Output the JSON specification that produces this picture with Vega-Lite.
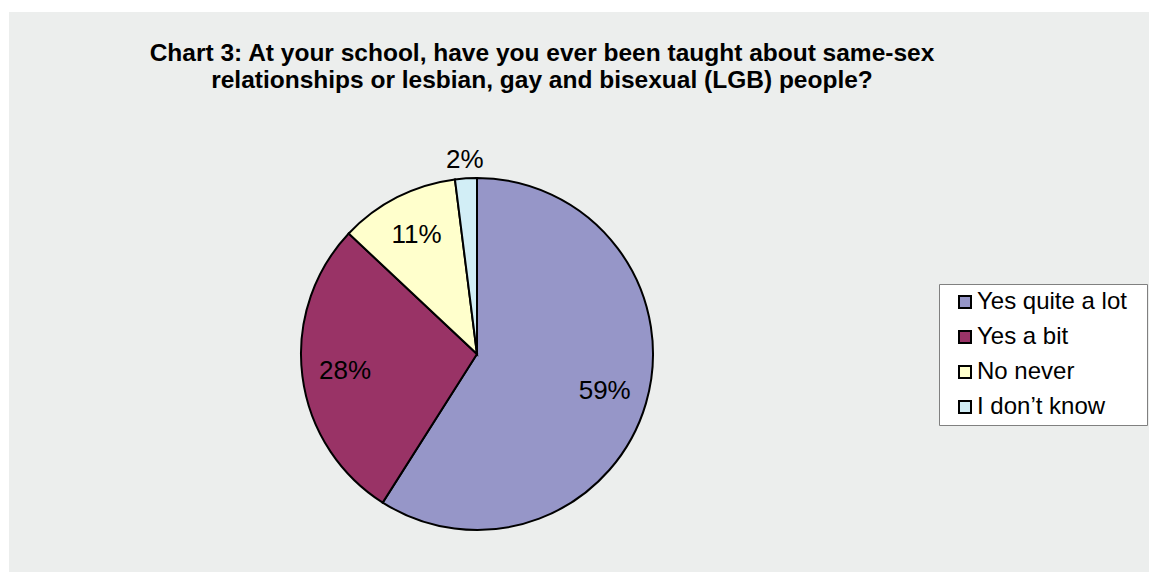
{
  "$schema": "https://vega.github.io/schema/vega-lite/v6.json",
  "background": "white",
  "padding": {"left": 9, "top": 12, "right": 0, "bottom": 0},
  "spacing": 0,
  "config": {
    "view": {"fill": "#eceeed", "stroke": null},
    "font": "Liberation Sans",
    "concat": {"spacing": 0}
  },
  "datasets": {
    "answers": [
      {"idx": 1, "cat": "Yes quite a lot", "value": 0.59},
      {"idx": 2, "cat": "Yes a bit", "value": 0.28},
      {"idx": 3, "cat": "No never", "value": 0.11},
      {"idx": 4, "cat": "I don’t know", "value": 0.02}
    ]
  },
  "vconcat": [
    {
      "width": 1140,
      "height": 124,
      "view": {"fill": "#eceeed", "stroke": null},
      "data": {"values": [{"t": "Chart 3: At your school, have you ever been taught about same-sex\nrelationships or lesbian, gay and bisexual (LGB) people?"}]},
      "mark": {"type": "text", "fontSize": 24.5, "fontWeight": "bold", "lineBreak": "\n", "lineHeight": 27, "align": "center", "baseline": "middle", "dx": -37, "dy": -20, "color": "black"},
      "encoding": {"text": {"field": "t", "type": "nominal"}}
    },
    {
      "spacing": 0,
      "hconcat": [
        {
          "width": 936,
          "height": 436,
          "view": {"fill": "#eceeed", "stroke": null},
          "data": {"name": "answers"},
          "encoding": {
            "theta": {"field": "value", "type": "quantitative", "stack": true},
            "order": {"field": "idx", "type": "quantitative"}
          },
          "layer": [
            {
              "mark": {"type": "arc", "outerRadius": 176, "stroke": "black", "strokeWidth": 2},
              "encoding": {
                "color": {
                  "field": "cat",
                  "type": "nominal",
                  "sort": ["Yes quite a lot", "Yes a bit", "No never", "I don’t know"],
                  "scale": {
                    "domain": ["Yes quite a lot", "Yes a bit", "No never", "I don’t know"],
                    "range": ["#9696c8", "#993366", "#ffffcc", "#d2eef6"]
                  },
                  "legend": {
                    "title": "\u00a0",
                    "titleOrient": "right",
                    "titleFontSize": 1,
                    "titlePadding": 14,
                    "orient": "none",
                    "legendX": 930,
                    "legendY": 272,
                    "fillColor": "white",
                    "strokeColor": "#808080",
                    "padding": 6,
                    "symbolOffset": 8,
                    "symbolType": "square",
                    "symbolSize": 144,
                    "symbolStrokeColor": "black",
                    "symbolStrokeWidth": 2,
                    "labelFont": "Liberation Sans",
                    "labelFontSize": 24,
                    "labelColor": "black",
                    "labelOffset": 0,
                    "labelLimit": 300,
                    "rowPadding": 11
                  }
                }
              }
            },
            {
              "mark": {"type": "text", "radius": 133, "fontSize": 26, "color": "black"},
              "encoding": {
                "detail": {"field": "cat", "type": "nominal"},
                "text": {"condition": {"test": "datum.value < 0.05", "value": ""}, "field": "value", "type": "quantitative", "format": ".0%"}
              }
            },
            {
              "mark": {"type": "text", "radius": 194, "fontSize": 26, "color": "black"},
              "encoding": {
                "detail": {"field": "cat", "type": "nominal"},
                "text": {"condition": {"test": "datum.value >= 0.05", "value": ""}, "field": "value", "type": "quantitative", "format": ".0%"}
              }
            }
          ]
        },
        {
          "width": 204,
          "height": 436,
          "view": {"fill": "#eceeed", "stroke": null},
          "data": {"values": [{}]},
          "mark": {"type": "text"},
          "encoding": {"text": {"value": ""}}
        }
      ]
    }
  ]
}
